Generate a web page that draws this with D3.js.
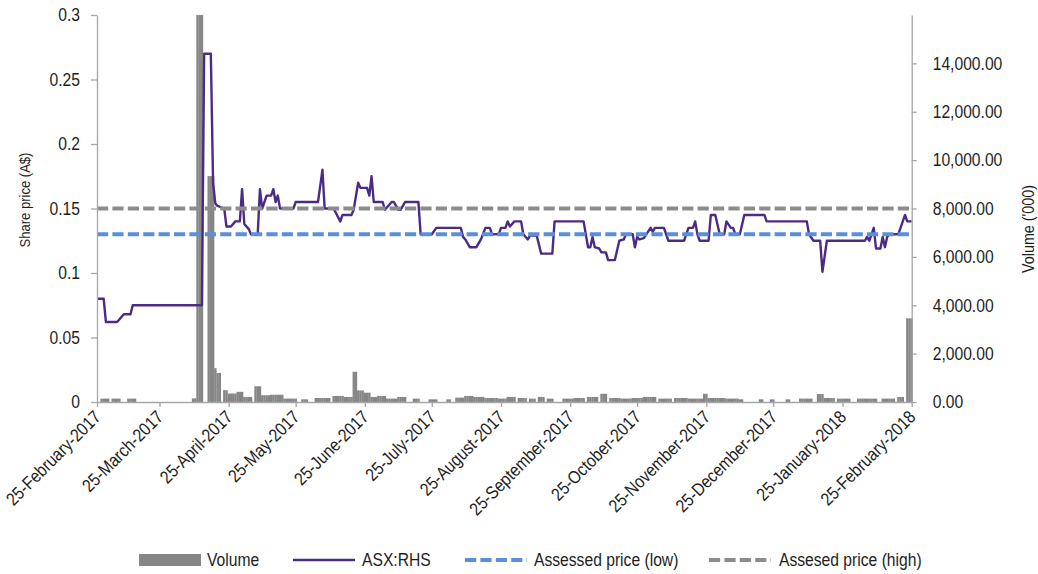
<!DOCTYPE html>
<html><head><meta charset="utf-8">
<script src="https://cdn.jsdelivr.net/npm/d3@7"></script>
<style>
html,body{margin:0;padding:0;background:#fff;}
svg{display:block;font-family:"Liberation Sans Narrow","Arial Narrow","Liberation Sans",Arial,sans-serif;}
</style></head><body>
<svg id="chart" width="1038" height="574"></svg>
<script>
// ---- DATA ----
const asxPrice = [
["2017-02-25",0.080],["2017-02-28",0.080],["2017-03-01",0.062],["2017-03-06",0.062],["2017-03-07",0.064],
["2017-03-09",0.068],["2017-03-12",0.068],["2017-03-13",0.075],["2017-04-13",0.075],["2017-04-14",0.270],
["2017-04-17",0.270],["2017-04-18",0.170],["2017-04-19",0.154],["2017-04-20",0.152],["2017-04-23",0.150],
["2017-04-24",0.136],["2017-04-26",0.136],["2017-04-28",0.140],["2017-04-30",0.140],["2017-05-01",0.165],
["2017-05-02",0.138],["2017-05-04",0.134],["2017-05-05",0.130],["2017-05-08",0.130],["2017-05-09",0.165],
["2017-05-10",0.150],["2017-05-12",0.160],["2017-05-14",0.160],["2017-05-15",0.165],["2017-05-16",0.155],
["2017-05-17",0.160],["2017-05-18",0.150],["2017-05-24",0.150],["2017-05-25",0.155],["2017-06-04",0.155],
["2017-06-06",0.180],["2017-06-07",0.150],["2017-06-11",0.150],["2017-06-14",0.140],["2017-06-15",0.145],
["2017-06-19",0.145],["2017-06-20",0.149],["2017-06-22",0.170],["2017-06-23",0.166],["2017-06-26",0.166],
["2017-06-27",0.160],["2017-06-28",0.175],["2017-06-29",0.155],["2017-07-03",0.155],["2017-07-04",0.149],
["2017-07-07",0.155],["2017-07-08",0.155],["2017-07-10",0.149],["2017-07-11",0.149],["2017-07-13",0.155],
["2017-07-19",0.155],["2017-07-20",0.130],["2017-07-25",0.130],["2017-07-27",0.135],["2017-08-07",0.135],
["2017-08-08",0.128],["2017-08-09",0.126],["2017-08-11",0.120],["2017-08-14",0.120],["2017-08-16",0.126],
["2017-08-18",0.135],["2017-08-20",0.135],["2017-08-21",0.130],["2017-08-24",0.130],["2017-08-25",0.135],
["2017-08-27",0.135],["2017-08-28",0.140],["2017-08-29",0.136],["2017-08-31",0.140],["2017-09-03",0.140],
["2017-09-04",0.130],["2017-09-06",0.126],["2017-09-07",0.129],["2017-09-10",0.129],["2017-09-12",0.115],
["2017-09-17",0.115],["2017-09-18",0.140],["2017-10-01",0.140],["2017-10-03",0.120],["2017-10-04",0.120],
["2017-10-05",0.128],["2017-10-06",0.120],["2017-10-08",0.119],["2017-10-09",0.116],["2017-10-11",0.116],
["2017-10-12",0.110],["2017-10-15",0.110],["2017-10-17",0.125],["2017-10-19",0.126],["2017-10-20",0.130],
["2017-10-23",0.130],["2017-10-24",0.120],["2017-10-25",0.128],["2017-10-26",0.126],["2017-10-28",0.127],
["2017-10-31",0.135],["2017-11-01",0.132],["2017-11-02",0.135],["2017-11-06",0.135],["2017-11-08",0.125],
["2017-11-15",0.125],["2017-11-17",0.135],["2017-11-19",0.135],["2017-11-20",0.140],["2017-11-21",0.130],
["2017-11-22",0.125],["2017-11-26",0.125],["2017-11-27",0.145],["2017-11-29",0.145],["2017-12-01",0.130],
["2017-12-03",0.130],["2017-12-04",0.140],["2017-12-06",0.135],["2017-12-07",0.135],["2017-12-08",0.130],
["2017-12-10",0.130],["2017-12-12",0.145],["2017-12-21",0.145],["2017-12-22",0.140],["2018-01-09",0.140],
["2018-01-10",0.130],["2018-01-12",0.125],["2018-01-15",0.125],["2018-01-16",0.101],["2018-01-18",0.125],
["2018-02-04",0.125],["2018-02-05",0.128],["2018-02-06",0.125],["2018-02-08",0.135],["2018-02-09",0.119],
["2018-02-11",0.119],["2018-02-12",0.128],["2018-02-13",0.120],["2018-02-14",0.128],["2018-02-15",0.130],
["2018-02-19",0.130],["2018-02-21",0.140],["2018-02-22",0.145],["2018-02-23",0.140],["2018-02-25",0.140]
];
// Volume in '000
const volume = [
["2017-02-27",140],["2017-02-28",140],["2017-03-01",140],["2017-03-02",140],
["2017-03-04",140],["2017-03-05",140],["2017-03-06",140],["2017-03-07",140],
["2017-03-11",140],["2017-03-12",140],["2017-03-13",140],["2017-03-14",140],
["2017-04-09",150],["2017-04-10",150],
["2017-04-11",17500],["2017-04-12",17500],["2017-04-13",17500],
["2017-04-16",9340],["2017-04-17",9340],["2017-04-18",9340],
["2017-04-19",1400],["2017-04-20",1200],["2017-04-21",1200],
["2017-04-23",490],["2017-04-24",490],
["2017-04-25",350],["2017-04-26",350],["2017-04-27",350],["2017-04-28",350],
["2017-04-29",420],["2017-04-30",420],["2017-05-01",420],
["2017-05-02",210],["2017-05-03",210],["2017-05-04",210],["2017-05-05",210],
["2017-05-07",650],["2017-05-08",650],["2017-05-09",650],
["2017-05-10",280],["2017-05-11",280],["2017-05-12",280],["2017-05-13",280],
["2017-05-14",300],["2017-05-15",300],["2017-05-16",300],["2017-05-17",300],["2017-05-18",300],["2017-05-19",300],
["2017-05-20",140],["2017-05-21",140],["2017-05-22",140],["2017-05-23",140],["2017-05-24",140],["2017-05-25",140],
["2017-05-28",110],["2017-05-29",110],["2017-05-30",110],
["2017-06-03",165],["2017-06-04",165],["2017-06-05",165],["2017-06-06",165],["2017-06-07",165],["2017-06-08",165],["2017-06-09",165],
["2017-06-11",250],["2017-06-12",250],["2017-06-13",250],["2017-06-14",250],["2017-06-15",250],
["2017-06-16",210],["2017-06-17",210],["2017-06-18",210],["2017-06-19",210],
["2017-06-20",1250],["2017-06-21",1250],
["2017-06-22",480],["2017-06-23",480],["2017-06-24",480],
["2017-06-25",385],["2017-06-26",385],["2017-06-27",385],
["2017-06-28",210],["2017-06-29",210],["2017-06-30",210],
["2017-07-01",250],["2017-07-02",250],["2017-07-03",250],["2017-07-04",250],
["2017-07-05",140],["2017-07-06",140],["2017-07-07",140],["2017-07-08",140],["2017-07-09",140],
["2017-07-10",210],["2017-07-11",210],["2017-07-12",210],["2017-07-13",210],
["2017-07-17",140],["2017-07-18",140],["2017-07-19",140],
["2017-07-24",110],["2017-07-25",110],["2017-07-26",110],["2017-07-27",110],
["2017-08-01",110],["2017-08-02",110],
["2017-08-05",180],["2017-08-06",180],["2017-08-07",180],["2017-08-08",180],
["2017-08-09",250],["2017-08-10",250],["2017-08-11",250],["2017-08-12",250],
["2017-08-13",210],["2017-08-14",210],["2017-08-15",210],["2017-08-16",210],["2017-08-17",210],
["2017-08-18",165],["2017-08-19",165],["2017-08-20",165],["2017-08-21",165],["2017-08-22",165],["2017-08-23",165],
["2017-08-24",140],["2017-08-25",140],["2017-08-26",140],["2017-08-27",140],
["2017-08-28",210],["2017-08-29",210],["2017-08-30",210],["2017-08-31",210],
["2017-09-02",165],["2017-09-03",165],["2017-09-04",165],["2017-09-05",165],
["2017-09-07",140],["2017-09-08",140],["2017-09-09",140],
["2017-09-11",210],["2017-09-12",210],["2017-09-13",210],
["2017-09-15",140],["2017-09-16",140],["2017-09-17",140],
["2017-09-22",140],["2017-09-23",140],["2017-09-24",140],["2017-09-25",140],["2017-09-26",140],
["2017-09-27",165],["2017-09-28",165],["2017-09-29",165],["2017-09-30",165],["2017-10-01",165],
["2017-10-03",210],["2017-10-04",210],["2017-10-05",210],["2017-10-06",210],["2017-10-07",210],
["2017-10-09",340],["2017-10-10",340],["2017-10-11",340],
["2017-10-13",165],["2017-10-14",165],["2017-10-15",165],["2017-10-16",165],["2017-10-17",165],
["2017-10-18",140],["2017-10-19",140],["2017-10-20",140],["2017-10-21",140],["2017-10-22",140],
["2017-10-23",165],["2017-10-24",165],["2017-10-25",165],["2017-10-26",165],["2017-10-27",165],
["2017-10-28",210],["2017-10-29",210],["2017-10-30",210],["2017-10-31",210],["2017-11-01",210],["2017-11-02",210],
["2017-11-04",140],["2017-11-05",140],["2017-11-06",140],["2017-11-07",140],["2017-11-08",140],["2017-11-09",140],
["2017-11-11",165],["2017-11-12",165],["2017-11-13",165],["2017-11-14",165],["2017-11-15",165],["2017-11-16",165],
["2017-11-17",140],["2017-11-18",140],["2017-11-19",140],["2017-11-20",140],["2017-11-21",140],["2017-11-22",140],["2017-11-23",140],
["2017-11-24",340],["2017-11-25",340],
["2017-11-26",165],["2017-11-27",165],["2017-11-28",165],["2017-11-29",165],["2017-11-30",165],["2017-12-01",165],["2017-12-02",165],["2017-12-03",165],
["2017-12-04",140],["2017-12-05",140],["2017-12-06",140],["2017-12-07",140],["2017-12-08",140],["2017-12-09",140],
["2017-12-10",110],["2017-12-11",110],
["2017-12-19",110],["2017-12-20",110],
["2017-12-24",110],["2017-12-25",110],
["2017-12-31",110],["2018-01-01",110],
["2018-01-06",140],["2018-01-07",140],["2018-01-08",140],["2018-01-09",140],["2018-01-10",140],["2018-01-11",140],
["2018-01-14",330],["2018-01-15",330],["2018-01-16",330],
["2018-01-17",165],["2018-01-18",165],["2018-01-19",165],["2018-01-20",165],["2018-01-21",165],
["2018-01-23",140],["2018-01-24",140],["2018-01-25",140],["2018-01-26",140],["2018-01-27",140],["2018-01-28",140],
["2018-02-01",140],["2018-02-02",140],["2018-02-03",140],["2018-02-04",140],["2018-02-05",140],["2018-02-06",140],["2018-02-07",140],["2018-02-08",140],["2018-02-09",140],
["2018-02-12",140],["2018-02-13",140],["2018-02-14",140],["2018-02-15",140],["2018-02-16",140],["2018-02-17",140],
["2018-02-19",210],["2018-02-20",210],["2018-02-21",210],
["2018-02-23",3460],["2018-02-24",3460],["2018-02-25",3460]
];
const assessedLow = 0.13;
const assessedHigh = 0.15;
const xTickDates = ["2017-02-25","2017-03-25","2017-04-25","2017-05-25","2017-06-25","2017-07-25","2017-08-25",
  "2017-09-25","2017-10-25","2017-11-25","2017-12-25","2018-01-25","2018-02-25"];
const xTickLabels = ["25-February-2017","25-March-2017","25-April-2017","25-May-2017","25-June-2017","25-July-2017",
  "25-August-2017","25-September-2017","25-October-2017","25-November-2017","25-December-2017","25-January-2018","25-February-2018"];
const leftTicks = [0,0.05,0.1,0.15,0.2,0.25,0.3];
const leftTickLabels = ["0","0.05","0.1","0.15","0.2","0.25","0.3"];
const rightTicks = [0,2000,4000,6000,8000,10000,12000,14000];
const rightTickLabels = ["0.00","2,000.00","4,000.00","6,000.00","8,000.00","10,000.00","12,000.00","14,000.00"];
const legendLabels = ["Volume","ASX:RHS","Assessed price (low)","Assesed price (high)"];
const leftTitle = "Share price (A$)";
const rightTitle = "Volume ('000)";

// ---- STYLE / LAYOUT ----
const C = {bar:"#868686", line:"#4b2c85", low:"#5b8fd9", high:"#8c8c8c", axis:"#a6a6a6", text:"#1e1e1e"};
const L = {left:97, right:911.7, top:15, bottom:402};
const NX = 0.87; // horizontal condensing to mimic a narrow face
const parse = d3.utcParse("%Y-%m-%d");

const svg = d3.select("#chart");
const x = d3.scaleUtc().domain([parse("2017-02-25"), parse("2018-02-25")]).range([L.left, L.right]);
const yL = d3.scaleLinear().domain([0,0.3]).range([L.bottom, L.top]);
const yR = d3.scaleLinear().domain([0,16000]).range([L.bottom, L.top]);
const dayW = x(parse("2017-02-26")) - x(parse("2017-02-25"));

svg.append("defs").append("clipPath").attr("id","plotclip")
  .append("rect").attr("x",0).attr("y",L.top).attr("width",1038).attr("height",L.bottom-L.top);

// bars
svg.append("g").attr("clip-path","url(#plotclip)").selectAll("rect").data(volume).join("rect")
  .attr("x", d => x(parse(d[0])) - dayW/2)
  .attr("width", dayW + 0.15)
  .attr("y", d => yR(d[1]))
  .attr("height", d => yR(0) - yR(d[1]))
  .attr("fill", C.bar);

// price line
const line = d3.line().x(d => x(parse(d[0]))).y(d => yL(d[1]));
svg.append("path").datum(asxPrice).attr("d", line)
  .attr("fill","none").attr("stroke",C.line).attr("stroke-width",2.4).attr("stroke-linejoin","round");

// assessed lines
const x0 = parse(asxPrice[0][0]), x1 = parse(asxPrice[asxPrice.length-1][0]);
[[assessedLow, C.low],[assessedHigh, C.high]].forEach(([v,c]) => {
  svg.append("line").attr("x1",x(x0)).attr("x2",x(x1)).attr("y1",yL(v)).attr("y2",yL(v))
    .attr("stroke",c).attr("stroke-width",4).attr("stroke-dasharray","11.2,4.2");
});

// axes
function narrow(sel){
  sel.each(function(){
    const t = d3.select(this);
    const xv = +t.attr("x") || 0, yv = +t.attr("y") || 0;
    t.attr("x",0).attr("y",0).attr("transform",`translate(${xv},${yv}) scale(${NX},1)`);
  });
}
function styleAxis(g){
  g.select(".domain").attr("stroke",C.axis).attr("stroke-width",1.3);
  g.selectAll(".tick line").attr("stroke",C.axis).attr("stroke-width",1.3);
  g.selectAll("text").attr("fill",C.text).style("font-size","18px").call(narrow);
}
svg.append("g").attr("transform",`translate(${L.left},0)`)
  .call(d3.axisLeft(yL).tickValues(leftTicks).tickFormat((d,i)=>leftTickLabels[i]).tickSize(6).tickSizeOuter(0).tickPadding(11))
  .call(styleAxis);
svg.append("g").attr("transform",`translate(${L.right},0)`)
  .call(d3.axisRight(yR).tickValues(rightTicks).tickFormat((d,i)=>rightTickLabels[i]).tickSize(5).tickSizeOuter(0).tickPadding(16))
  .call(styleAxis);
svg.append("g").attr("transform",`translate(0,${L.bottom})`)
  .call(d3.axisBottom(x).tickValues(xTickDates.map(parse)).tickFormat("").tickSize(5).tickSizeOuter(0))
  .call(styleAxis);
svg.append("g").selectAll("text").data(xTickDates).join("text")
  .attr("transform",(d)=>`translate(${x(parse(d))+5},${L.bottom+16}) rotate(-45) scale(${NX},1)`)
  .attr("text-anchor","end").attr("fill",C.text).style("font-size","18px")
  .text((d,i)=>xTickLabels[i]);

// axis titles
svg.append("text").attr("transform",`translate(25,200) rotate(-90) scale(${NX},1)`).attr("text-anchor","middle")
  .attr("dy","0.35em").attr("fill",C.text).style("font-size","15px").text(leftTitle);
svg.append("text").attr("transform",`translate(1028,229) rotate(-90) scale(${NX},1)`).attr("text-anchor","middle")
  .attr("dy","0.35em").attr("fill",C.text).style("font-size","16.5px").text(rightTitle);

// legend
const ly = 560;
const lg = svg.append("g");
lg.append("rect").attr("x",139).attr("y",ly-6).attr("width",62).attr("height",12).attr("fill",C.bar);
lg.append("line").attr("x1",293).attr("x2",355).attr("y1",ly).attr("y2",ly).attr("stroke",C.line).attr("stroke-width",2.5);
lg.append("line").attr("x1",465).attr("x2",527).attr("y1",ly).attr("y2",ly).attr("stroke",C.low).attr("stroke-width",4).attr("stroke-dasharray","11.2,4.2");
lg.append("line").attr("x1",709).attr("x2",771).attr("y1",ly).attr("y2",ly).attr("stroke",C.high).attr("stroke-width",4).attr("stroke-dasharray","11.2,4.2");
const lx = [207, 362, 534, 779];
lg.selectAll("text").data(legendLabels).join("text")
  .attr("transform",(d,i)=>`translate(${lx[i]},${ly}) scale(${NX},1)`)
  .attr("dy","0.35em").attr("fill",C.text).style("font-size","18px")
  .text(d=>d);
</script>
</body></html>
